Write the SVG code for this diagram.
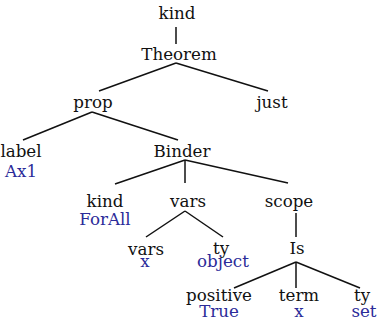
<svg xmlns="http://www.w3.org/2000/svg" width="378" height="321" viewBox="0 0 378 321">
<style>
text{font-family:"DejaVu Serif",serif;font-size:16.7px;text-anchor:middle}
.k{fill:#111}
.v{fill:#2b2b99}
.e{stroke:#111;stroke-width:1.5;fill:none}
</style>
<rect width="378" height="321" fill="#fff"/>
<g id="edges">
<path class="e" d="M176,27V44"/>
<path class="e" d="M176,63L99,91"/>
<path class="e" d="M176,63L268,91"/>
<path class="e" d="M92,112L23,140"/>
<path class="e" d="M92,112L178,140"/>
<path class="e" d="M185,160L115,184"/>
<path class="e" d="M185,160V183"/>
<path class="e" d="M185,160L288,183"/>
<path class="e" d="M185,211L146,237"/>
<path class="e" d="M185,211L223,237"/>
<path class="e" d="M296,213V237"/>
<path class="e" d="M296,262L234,288"/>
<path class="e" d="M296,262V288"/>
<path class="e" d="M296,262L360,288"/>
</g>
<g id="n-kind"><text class="k" x="177" y="19">kind</text></g>
<g id="n-theorem"><text class="k" x="179" y="60">Theorem</text></g>
<g id="n-prop"><text class="k" x="93" y="108">prop</text></g>
<g id="n-just"><text class="k" x="272" y="108">just</text></g>
<g id="n-label"><text class="k" x="21" y="157">label</text><text class="v" x="21" y="177">Ax1</text></g>
<g id="n-binder"><text class="k" x="182" y="157">Binder</text></g>
<g id="n-kind2"><text class="k" x="105" y="207">kind</text><text class="v" x="105" y="225">ForAll</text></g>
<g id="n-vars"><text class="k" x="188" y="207">vars</text></g>
<g id="n-scope"><text class="k" x="289" y="207">scope</text></g>
<g id="n-vars2"><text class="k" x="146" y="255">vars</text><text class="v" x="145" y="267">x</text></g>
<g id="n-ty"><text class="k" x="221" y="254">ty</text><text class="v" x="223" y="267">object</text></g>
<g id="n-is"><text class="k" x="297" y="254">Is</text></g>
<g id="n-positive"><text class="k" x="219" y="301">positive</text><text class="v" x="219" y="317">True</text></g>
<g id="n-term"><text class="k" x="299" y="301">term</text><text class="v" x="299" y="317">x</text></g>
<g id="n-ty2"><text class="k" x="362" y="301">ty</text><text class="v" x="364" y="317">set</text></g>
</svg>
